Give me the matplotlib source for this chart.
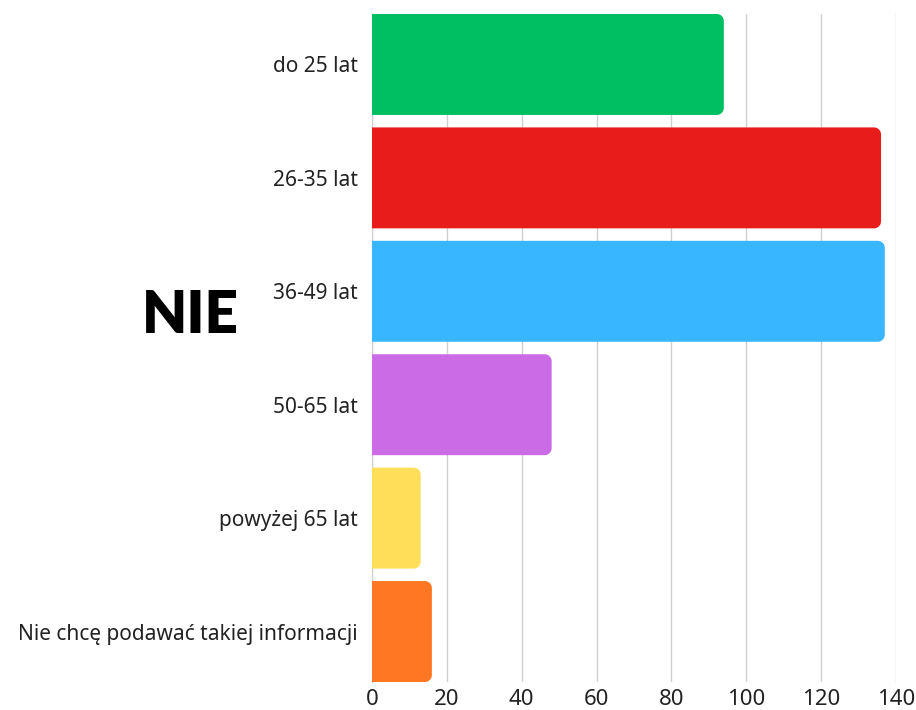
import numpy as np
import matplotlib.pyplot as plt
from matplotlib.patches import Polygon

# Dane
kategorie = ['do 25 lat', '26-35 lat', '36-49 lat', '50-65 lat',
             'powyżej 65 lat', 'Nie chcę podawać takiej informacji']
wartosci = [94, 136, 137, 48, 13, 16]
kolory = ['#00BF63', '#E91C1C', '#38B6FF', '#CB6CE6', '#FFDE59', '#FF7722']
xticks = [0, 20, 40, 60, 80, 100, 120, 140]

plt.rcParams['font.family'] = ['Noto Sans', 'DejaVu Sans']

fig = plt.figure(figsize=(9.16, 7.10), dpi=100)
ax = fig.add_axes([372/916, 1 - 682/710, 524/916, 668/710])

pos = list(range(len(kategorie)))
bars = ax.barh(pos, wartosci, height=0.89, color=kolory, zorder=2)
ax.set_xlim(0, 140)
ax.set_ylim(len(kategorie) - 0.555, -0.445)

# zaokraglone prawe rogi (promien ok. 7 px)
rx = 7 / 3.743
ry = 7 / 113.3
t = np.linspace(0, np.pi / 2, 12)
for b, c in zip(bars, kolory):
    x, y, w, h = b.get_x(), b.get_y(), b.get_width(), b.get_height()
    x1 = x + w
    pts = [(x, y)]
    pts += [(x1 - rx + rx * np.sin(a), y + ry - ry * np.cos(a)) for a in t]
    pts += [(x1 - rx + rx * np.cos(a), y + h - ry + ry * np.sin(a)) for a in t]
    pts += [(x, y + h)]
    ax.add_patch(Polygon(pts, closed=True, fc=c, ec='none', zorder=2))
    b.set_visible(False)

ax.set_yticks(pos)
ax.set_yticklabels(kategorie, fontsize=15, color='#222222')
ax.set_xticks(xticks)
ax.set_xticklabels([str(t) for t in xticks], fontsize=16, color='#222222')
ax.tick_params(axis='y', length=0, pad=10)
ax.tick_params(axis='x', length=0, pad=5)
ax.grid(axis='x', color='#d0d0d0', linewidth=1, zorder=0)
for s in ['top', 'right', 'bottom']:
    ax.spines[s].set_visible(False)
ax.spines['left'].set_color('#bbbbbb')
ax.spines['left'].set_zorder(1)

fig.text(190/916, 1 - 315/710, 'NIE', fontsize=42, fontweight='heavy',
         family=['Lato', 'DejaVu Sans'],
         ha='center', va='center', color='black')

fig.savefig('out.png', dpi=100)
